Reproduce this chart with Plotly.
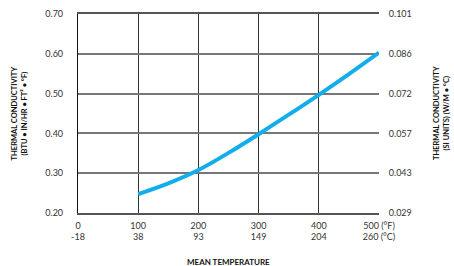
import plotly.graph_objects as go

temps_f = [100, 150, 200, 250, 300, 350, 400, 450, 500]
k_imperial = [0.2475, 0.2745, 0.308, 0.351, 0.398, 0.447, 0.497, 0.549, 0.603]

x_tick_f = [0, 100, 200, 300, 400, 500]
x_tick_c = ["-18", "38", "93", "149", "204", "260"]
y_ticks = [0.20, 0.30, 0.40, 0.50, 0.60, 0.70]
y_si_labels = ["0.029", "0.043", "0.057", "0.072", "0.086", "0.101"]

font_family = "Lato, 'Open Sans', sans-serif"
x_ticktext = []
for i, (f, c) in enumerate(zip(x_tick_f, x_tick_c)):
    if i == len(x_tick_f) - 1:
        x_ticktext.append(f"{f} (°F)<br>{c} (°C)")
    else:
        x_ticktext.append(f"{f}<br>{c}")

fig = go.Figure()
fig.add_trace(go.Scatter(
    x=temps_f, y=k_imperial, mode="lines",
    line=dict(color="#12aeea", width=4, shape="spline"),
    showlegend=False, hoverinfo="skip"))
fig.add_trace(go.Scatter(
    x=temps_f, y=k_imperial, mode="lines", yaxis="y2",
    line=dict(color="rgba(0,0,0,0)", width=0),
    showlegend=False, hoverinfo="skip"))

fig.update_layout(
    width=454, height=266,
    margin=dict(l=78, r=75, t=14, b=53),
    paper_bgcolor="white", plot_bgcolor="white",
    font=dict(family=font_family, size=9, color="#333"),
    xaxis=dict(
        range=[0, 500], tickvals=x_tick_f, ticktext=x_ticktext,
        showgrid=True, gridcolor="#333", gridwidth=1.2,
        showline=True, linecolor="#555", linewidth=1.5, mirror=True,
        zeroline=False, ticks="outside", ticklen=3, tickcolor="rgba(0,0,0,0)",
        tickfont=dict(size=9, color="#333"), automargin=False,
    ),
    yaxis=dict(
        range=[0.20, 0.70], tickvals=y_ticks, ticktext=[f"{v:.2f}" for v in y_ticks],
        showgrid=True, gridcolor="#777", gridwidth=1.5,
        showline=True, linecolor="#111", linewidth=1.2,
        zeroline=False, ticks="outside", ticklen=12, tickcolor="rgba(0,0,0,0)",
        tickfont=dict(size=9, color="#333"), automargin=False,
    ),
    yaxis2=dict(
        range=[0.20, 0.70], tickvals=y_ticks, ticktext=y_si_labels,
        overlaying="y", side="right", showgrid=False, zeroline=False,
        showline=False, ticks="outside", ticklen=7, tickcolor="rgba(0,0,0,0)",
        tickfont=dict(size=9, color="#333"), automargin=False,
    ),
    annotations=[
        dict(text="<b>MEAN TEMPERATURE</b>", xref="paper", yref="paper",
             x=0.5, y=-0.246, yanchor="middle", showarrow=False,
             font=dict(size=8, color="#111")),
        dict(text="<b>THERMAL CONDUCTIVITY<br>(BTU • IN/HR • FT² • °F)</b>",
             xref="paper", yref="paper", x=-0.193, y=0.5, textangle=-90,
             xanchor="center", yanchor="middle", showarrow=False,
             font=dict(size=7.5, color="#111")),
        dict(text="<b>THERMAL CONDUCTIVITY<br>(SI UNITS) (W/M • °C)</b>",
             xref="paper", yref="paper", x=1.208, y=0.5, textangle=-90,
             xanchor="center", yanchor="middle", showarrow=False,
             font=dict(size=7.5, color="#111")),
    ],
)

fig.write_html(
    "out.html",
    config={"displayModeBar": False},
    post_script="document.body.style.margin='0';document.body.style.overflow='hidden';",
)
